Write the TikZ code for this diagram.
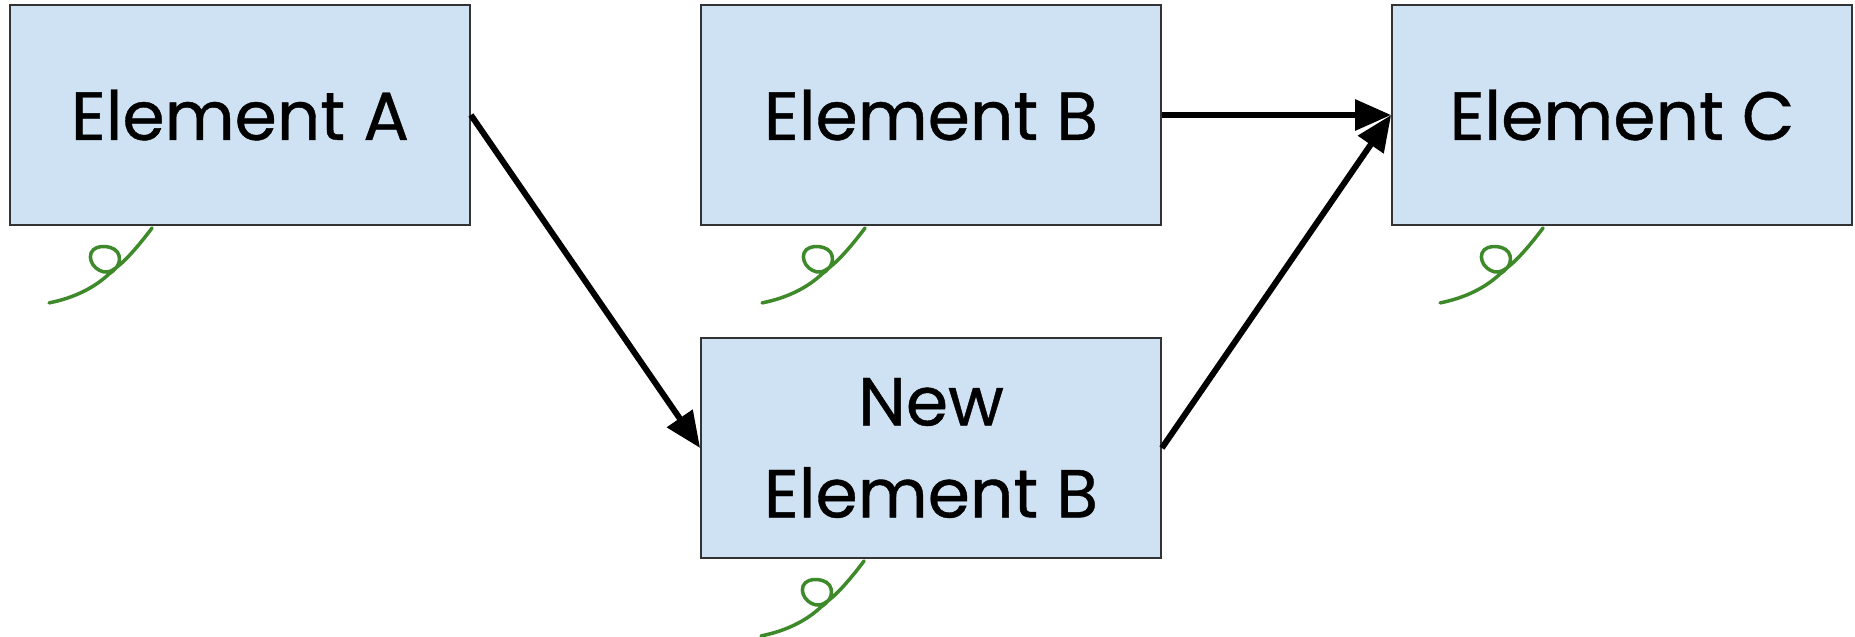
\documentclass[tikz,border=0pt]{standalone}
\usepackage{fontspec}
\setmainfont{Poppins}
\newfontfamily\elemfont{Poppins}[FakeBold=0.6]
\usetikzlibrary{arrows.meta}
\definecolor{boxfill}{HTML}{CFE2F3}
\definecolor{boxline}{HTML}{333333}
\definecolor{curlcol}{HTML}{3E8A2A}
\tikzset{
  elem/.style={draw=boxline, line width=1.8pt, fill=boxfill, minimum width=460pt, minimum height=220pt, inner sep=0pt, align=center, font=\elemfont\fontsize{68}{92}\selectfont},
  conn/.style={line width=6pt, -{Triangle[length=36pt,width=30pt]}},
  curlline/.style={draw=curlcol, line width=3.5pt, line cap=round},
  tendril/.pic={\draw[curlline] (143,2) .. controls (128,22) and (112,40) .. (102,45) .. controls (92,50) and (78,38) .. (82,27) .. controls (86,17) and (108,19) .. (110,30) .. controls (112,40) and (104,45) .. (100,48) .. controls (85,62) and (65,72) .. (40,77);}
}
\begin{document}
\begin{tikzpicture}[x=1pt,y=-1pt]
\useasboundingbox (0,0) rectangle (1855,637);
\node[elem] (A) at (240,115) {Element A};
\node[elem] (B) at (931,115) {Element B};
\node[elem] (C) at (1622,115) {Element C};
\node[elem] (NB) at (931,448) {New\\Element B};
\draw[conn] (A.east) -- (NB.west);
\draw[conn] (B.east) -- (C.west);
\draw[conn] (NB.east) -- (C.west);
\pic at (A.south west) {tendril};
\pic at ([xshift=22pt]B.south west) {tendril};
\pic at ([xshift=9pt]C.south west) {tendril};
\pic at ([xshift=21pt]NB.south west) {tendril};
\end{tikzpicture}
\end{document}
